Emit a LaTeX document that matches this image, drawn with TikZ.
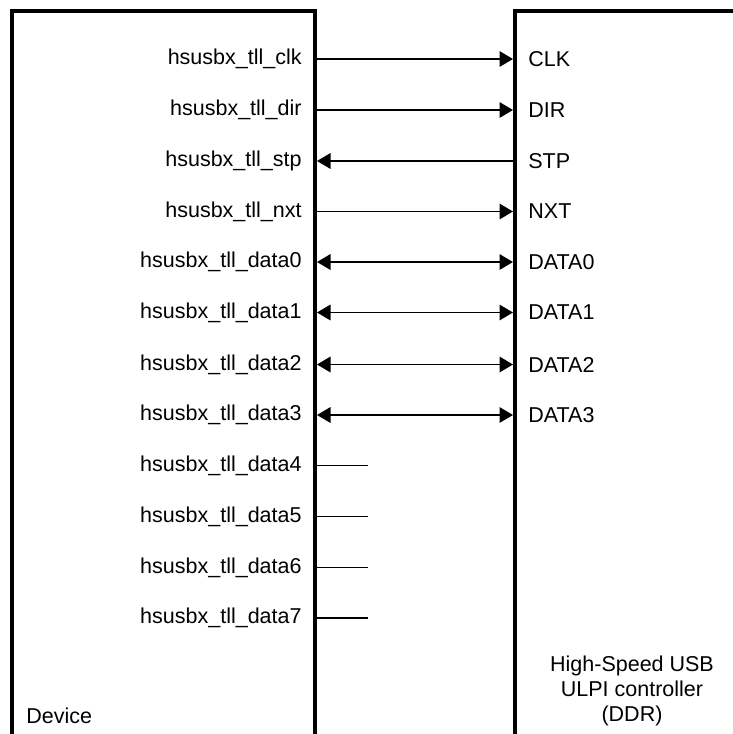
\documentclass[tikz,border=0pt]{standalone}
\usepackage{fontspec}
\setmainfont{Liberation Sans}
\usepackage{tikz}
\usetikzlibrary{positioning,arrows.meta}

\begin{document}
\begin{tikzpicture}[x=0.5pt, y=-0.5pt,
        boxLine/.style={line width=2pt, line cap=butt, line join=miter},
        sigLine/.style={line width=0.65pt, >={Triangle[length=6.75pt, width=7.8pt]}},
        sigOut/.style={->},
        sigIn/.style={<-},
        sigBoth/.style={<->},
        pinLabel/.style={font=\fontsize{10.75}{12.5}\selectfont, inner sep=0pt}
    ]
        \clip (0,0) rectangle (733,734);

        % Device box (open at the bottom)
        \coordinate (devBL) at (11.5,740);
        \coordinate (devTL) at (11.5,11);
        \coordinate (devTR) at (315,11);
        \coordinate (devBR) at (315,740);
        \draw[boxLine] (devBL) -- (devTL) -- (devTR) -- (devBR);

        % ULPI controller box
        \coordinate (ctrlBL) at (515,740);
        \coordinate (ctrlTL) at (515,11);
        \coordinate (ctrlTR) at (745,11);
        \draw[boxLine] (ctrlBL) -- (ctrlTL) -- (ctrlTR);

        % Connected signals
        \foreach \sig/\pin/\yy/\dir in {clk/CLK/59/sigOut, dir/DIR/110/sigOut, stp/STP/161/sigIn, nxt/NXT/211.5/sigOut,
                data0/DATA0/262/sigBoth, data1/DATA1/312.5/sigBoth, data2/DATA2/364.5/sigBoth, data3/DATA3/415/sigBoth}{
            \coordinate (L-\sig) at (315,\yy);
            \coordinate (R-\sig) at (515,\yy);
            \node[pinLabel, anchor=east] (l-\sig) at (302,\yy) {hsusbx\_tll\_\sig};
            \node[pinLabel, anchor=west] (r-\sig) at (528,\yy) {\pin};
            \draw[sigLine, \dir, shorten >=1pt, shorten <=1pt] (L-\sig) -- (R-\sig);
        }

        % Unconnected data lines
        \foreach \sig/\yy in {data4/465.5, data5/516.5, data6/567.5, data7/618}{
            \coordinate (L-\sig) at (315,\yy);
            \coordinate (E-\sig) at (368,\yy);
            \node[pinLabel, anchor=east] (l-\sig) at (302,\yy) {hsusbx\_tll\_\sig};
            \draw[sigLine] (L-\sig) -- (E-\sig);
        }

        % Box names
        \node[pinLabel, anchor=west] (devName) at (26,716) {Device};
        \node[pinLabel, align=center] (ctrlName) at (632,691) {High-Speed USB\\ULPI controller\\(DDR)};
    \end{tikzpicture}
\end{document}
